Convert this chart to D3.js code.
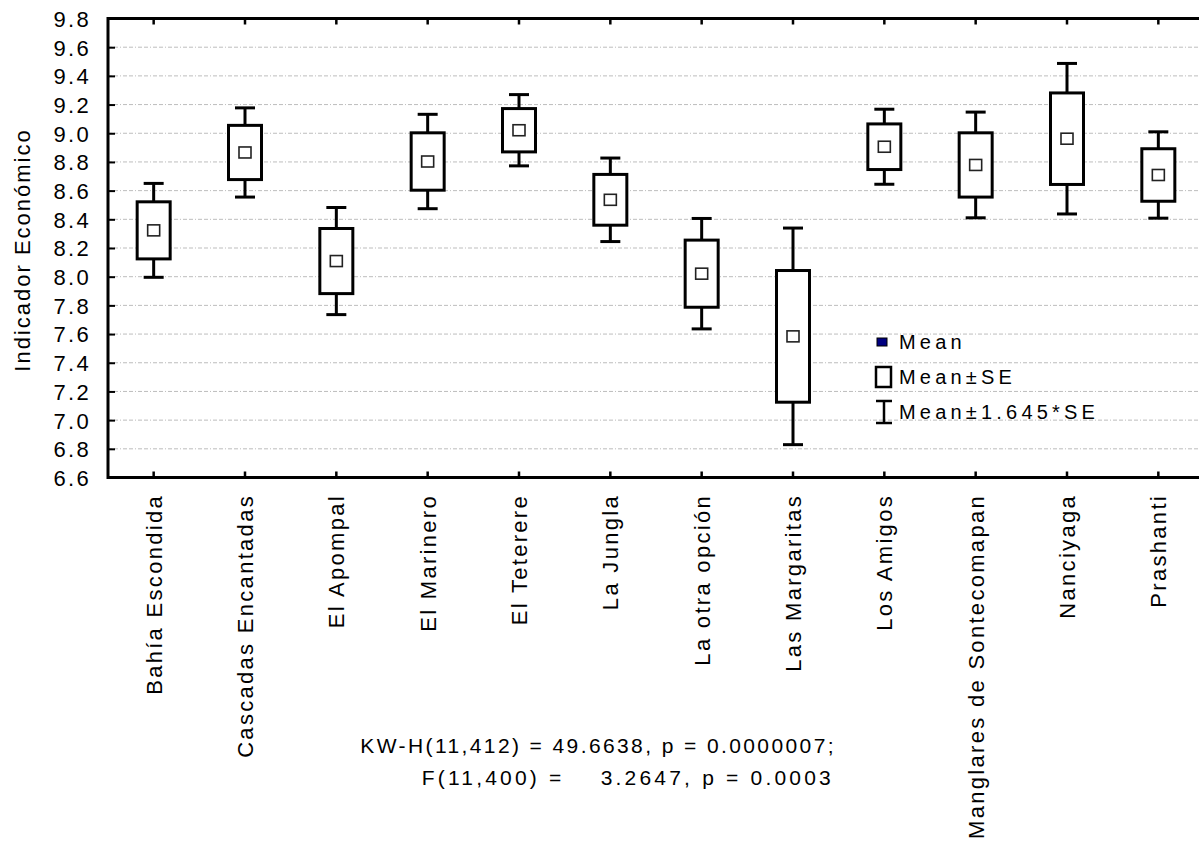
<!DOCTYPE html>
<html>
<head>
<meta charset="utf-8">
<script src="https://cdn.jsdelivr.net/npm/d3@7"></script>
<style>
  html, body { margin: 0; padding: 0; background: #fff; }
  svg { display: block; font-family: "Liberation Sans", Arial, sans-serif; }
</style>
</head>
<body>
<svg id="chart" width="1199" height="841"></svg>
<script>
// Sites and their economic indicator summaries
const categories = [
  "Bahía Escondida", "Cascadas Encantadas", "El Apompal", "El Marinero",
  "El Teterere", "La Jungla", "La otra opción", "Las Margaritas",
  "Los Amigos", "Manglares de Sontecomapan", "Nanciyaga", "Prashanti"
];
const means = [8.323, 8.866, 8.109, 8.803, 9.021, 8.536, 8.021, 7.584, 8.906, 8.779, 8.962, 8.709];
const stdErrors = [0.199, 0.189, 0.227, 0.200, 0.151, 0.177, 0.234, 0.459, 0.159, 0.224, 0.319, 0.183];
const yTicks = [6.6, 6.8, 7.0, 7.2, 7.4, 7.6, 7.8, 8.0, 8.2, 8.4, 8.6, 8.8, 9.0, 9.2, 9.4, 9.6, 9.8];
const statLines = [
  "KW-H(11,412) = 49.6638, p = 0.0000007;",
  "F(11,400) =    3.2647, p = 0.0003"
];
const legendLabels = ["Mean", "Mean±SE", "Mean±1.645*SE"];
const yTitle = "Indicador Económico";
const zCrit = 1.645;

const svg = d3.select("#chart");
const plot = { left: 108, right: 1204, top: 18.5, bottom: 477.5 };

const x = d3.scaleBand().domain(categories).range([plot.left, plot.right]);
const y = d3.scaleLinear().domain([6.6, 9.8]).range([plot.bottom, plot.top]);

// Horizontal dash-dot grid
svg.append("g").selectAll("line").data(yTicks.slice(1, -1)).join("line")
  .attr("x1", plot.left).attr("x2", plot.right)
  .attr("y1", d => y(d)).attr("y2", d => y(d))
  .attr("stroke", "#bdbdbd").attr("stroke-width", 1)
  .attr("stroke-dasharray", "4,2,4,2,1,2");

// Y axis with inward ticks
const yAxis = d3.axisLeft(y).tickValues(yTicks).tickFormat(d3.format(".1f"))
  .tickSizeInner(-7).tickSizeOuter(0).tickPadding(17);
const gy = svg.append("g").attr("transform", `translate(${plot.left},0)`).call(yAxis);
gy.select(".domain").remove();
gy.selectAll(".tick line").attr("stroke", "#000").attr("stroke-width", 2);
gy.selectAll(".tick text")
  .attr("font-size", 22).attr("fill", "#000")
  .attr("letter-spacing", "2.3px").attr("dy", "0.36em");

// Category ticks on top and bottom, pointing inward
const xBottom = d3.axisBottom(x).tickSizeInner(-6).tickSizeOuter(0).tickFormat("");
const xTop = d3.axisTop(x).tickSizeInner(-6).tickSizeOuter(0).tickFormat("");
[svg.append("g").attr("transform", `translate(0,${plot.bottom})`).call(xBottom),
 svg.append("g").attr("transform", `translate(0,${plot.top})`).call(xTop)].forEach(g => {
  g.select(".domain").remove();
  g.selectAll(".tick line").attr("stroke", "#000").attr("stroke-width", 2.5);
});

// Plot frame
svg.append("rect")
  .attr("x", plot.left).attr("y", plot.top)
  .attr("width", plot.right - plot.left).attr("height", plot.bottom - plot.top)
  .attr("fill", "none").attr("stroke", "#000").attr("stroke-width", 3);

// Category labels, rotated
svg.append("g").selectAll("text").data(categories).join("text")
  .attr("transform", d => `translate(${x(d) + x.bandwidth() / 2},494) rotate(-90)`)
  .attr("text-anchor", "end").attr("dy", "0.36em")
  .attr("font-size", 22).attr("letter-spacing", "2.3px").attr("fill", "#000")
  .text(d => d);

// Y axis title
svg.append("text")
  .attr("transform", `translate(22,${(plot.top + plot.bottom) / 2 + 2}) rotate(-90)`)
  .attr("text-anchor", "middle").attr("dy", "0.36em")
  .attr("font-size", 22).attr("letter-spacing", "2px").attr("fill", "#000")
  .text(yTitle);

// Box-and-whisker marks: box = mean ± SE, whiskers = mean ± 1.645·SE
const rows = categories.map((c, i) => ({ c, m: means[i], se: stdErrors[i] }));
const boxW = 33, capW = 20, meanW = 12, meanH = 11;
const g = svg.append("g").selectAll("g").data(rows).join("g")
  .attr("transform", d => `translate(${x(d.c) + x.bandwidth() / 2},0)`);

g.append("line")
  .attr("x1", 0).attr("x2", 0)
  .attr("y1", d => y(d.m + zCrit * d.se)).attr("y2", d => y(d.m - zCrit * d.se))
  .attr("stroke", "#000").attr("stroke-width", 3);
g.append("line")
  .attr("x1", -capW / 2).attr("x2", capW / 2)
  .attr("y1", d => y(d.m + zCrit * d.se)).attr("y2", d => y(d.m + zCrit * d.se))
  .attr("stroke", "#000").attr("stroke-width", 3);
g.append("line")
  .attr("x1", -capW / 2).attr("x2", capW / 2)
  .attr("y1", d => y(d.m - zCrit * d.se)).attr("y2", d => y(d.m - zCrit * d.se))
  .attr("stroke", "#000").attr("stroke-width", 3);
g.append("rect")
  .attr("x", -boxW / 2).attr("width", boxW)
  .attr("y", d => y(d.m + d.se)).attr("height", d => y(d.m - d.se) - y(d.m + d.se))
  .attr("fill", "#fff").attr("stroke", "#000").attr("stroke-width", 3);
g.append("rect")
  .attr("x", -meanW / 2).attr("width", meanW)
  .attr("y", d => y(d.m) - meanH / 2).attr("height", meanH)
  .attr("fill", "#fff").attr("stroke", "#222").attr("stroke-width", 1.6);

// Legend
const lg = svg.append("g");
const lx = 884, ly = [342, 377, 412];
lg.append("rect").attr("x", lx - 7).attr("y", ly[0] - 4).attr("width", 10).attr("height", 8)
  .attr("fill", "#000080").attr("stroke", "#000").attr("stroke-width", 1);
lg.append("rect").attr("x", lx - 8).attr("y", ly[1] - 10).attr("width", 15).attr("height", 20)
  .attr("fill", "#fff").attr("stroke", "#000").attr("stroke-width", 2.5);
lg.append("line").attr("x1", lx).attr("x2", lx).attr("y1", ly[2] - 11).attr("y2", ly[2] + 11)
  .attr("stroke", "#000").attr("stroke-width", 2.5);
lg.append("line").attr("x1", lx - 8).attr("x2", lx + 8).attr("y1", ly[2] - 11).attr("y2", ly[2] - 11)
  .attr("stroke", "#000").attr("stroke-width", 2.5);
lg.append("line").attr("x1", lx - 8).attr("x2", lx + 8).attr("y1", ly[2] + 11).attr("y2", ly[2] + 11)
  .attr("stroke", "#000").attr("stroke-width", 2.5);
lg.selectAll("text").data(legendLabels).join("text")
  .attr("x", 899).attr("y", (d, i) => ly[i]).attr("dy", "0.36em")
  .attr("font-size", 20).attr("letter-spacing", "4.2px").attr("fill", "#000")
  .text(d => d);

// Test statistics beneath the chart
svg.append("g").selectAll("text").data(statLines).join("text")
  .attr("x", (d, i) => i === 0 ? 836 : 834).attr("y", (d, i) => 753 + i * 32)
  .attr("text-anchor", "end").attr("font-size", 21)
  .attr("letter-spacing", (d, i) => i === 0 ? "2.4px" : "3.2px")
  .style("white-space", "pre").attr("fill", "#000")
  .text(d => d);
</script>
</body>
</html>
